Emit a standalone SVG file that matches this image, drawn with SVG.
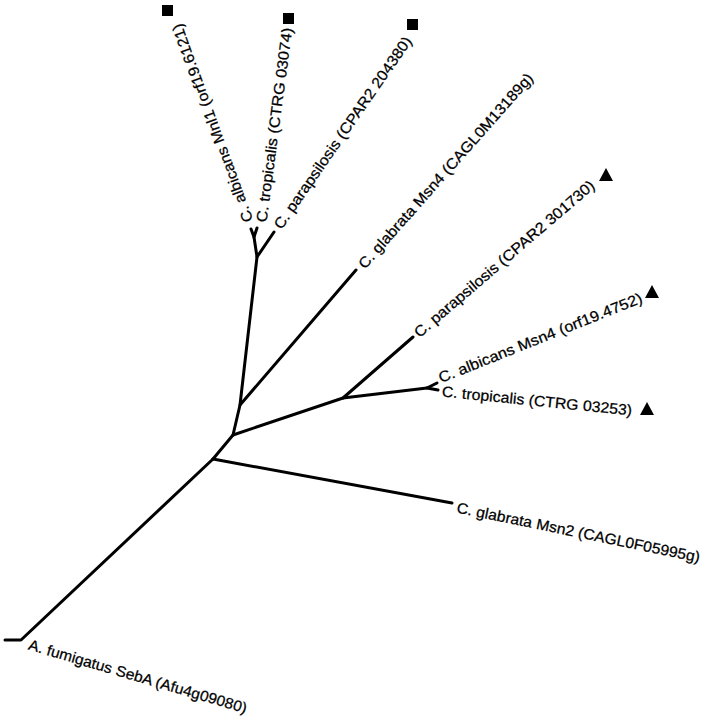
<svg xmlns="http://www.w3.org/2000/svg" width="708" height="720" viewBox="0 0 708 720">
<style>
.br{stroke:#000;stroke-width:3;fill:none;stroke-linecap:round;stroke-linejoin:round}
.lb{font-family:"Liberation Sans",Arial,sans-serif;font-size:15px;fill:#000;stroke:#000;stroke-width:0.25;dominant-baseline:central}
.mk{fill:#000}
</style>
<rect width="708" height="720" fill="#fff"/>
<g id="connectors" class="br">
<path d="M5,640 L21,640 L213,459"/>
<path d="M213,459 L452,503"/>
<path d="M213,459 L233,435 L240,405 L257,257 L254,237 L251,229"/>
<path d="M254,237 L257,228"/>
<path d="M257,257 L274,232"/>
<path d="M240,405 L356,270"/>
<path d="M233,435 L343,398 L413,337"/>
<path d="M343,398 L427,388 L437,383"/>
<path d="M427,388 L438,390"/>
</g>
<g id="n-albicans-mnl1">
<text class="lb" transform="translate(248,222) rotate(-110)" textLength="210" lengthAdjust="spacingAndGlyphs">C. albicans Mnl1 (orf19.6121)</text>
<rect class="mk" x="162" y="5" width="11" height="11"/>
</g>
<g id="n-tropicalis-03074">
<text class="lb" transform="translate(261,222) rotate(-82.4)" textLength="196" lengthAdjust="spacingAndGlyphs">C. tropicalis (CTRG 03074)</text>
<rect class="mk" x="283" y="13" width="11" height="11"/>
</g>
<g id="n-parapsilosis-204380">
<text class="lb" transform="translate(277,227) rotate(-55.3)" textLength="230" lengthAdjust="spacingAndGlyphs">C. parapsilosis (CPAR2 204380)</text>
<rect class="mk" x="407" y="19" width="11" height="11"/>
</g>
<g id="n-glabrata-msn4">
<text class="lb" transform="translate(361,266) rotate(-48.5)" textLength="255" lengthAdjust="spacingAndGlyphs">C. glabrata Msn4 (CAGL0M13189g)</text>
</g>
<g id="n-parapsilosis-301730">
<text class="lb" transform="translate(416,334) rotate(-40.6)" textLength="232" lengthAdjust="spacingAndGlyphs">C. parapsilosis (CPAR2 301730)</text>
<polygon class="mk" points="606,168 613,181 599,181"/>
</g>
<g id="n-albicans-msn4">
<text class="lb" transform="translate(439,378) rotate(-21.8)" textLength="218" lengthAdjust="spacingAndGlyphs">C. albicans Msn4 (orf19.4752)</text>
<polygon class="mk" points="652,285 659,298 645,298"/>
</g>
<g id="n-tropicalis-03253">
<text class="lb" transform="translate(442,391) rotate(5.7)" textLength="191" lengthAdjust="spacingAndGlyphs">C. tropicalis (CTRG 03253)</text>
<polygon class="mk" points="647,402 654,415 640,415"/>
</g>
<g id="n-glabrata-msn2">
<text class="lb" transform="translate(457,507) rotate(11.6)" textLength="248" lengthAdjust="spacingAndGlyphs">C. glabrata Msn2 (CAGL0F05995g)</text>
</g>
<g id="n-fumigatus-seba">
<text class="lb" transform="translate(29,644) rotate(16.4)" textLength="227" lengthAdjust="spacingAndGlyphs">A. fumigatus SebA (Afu4g09080)</text>
</g>
</svg>
